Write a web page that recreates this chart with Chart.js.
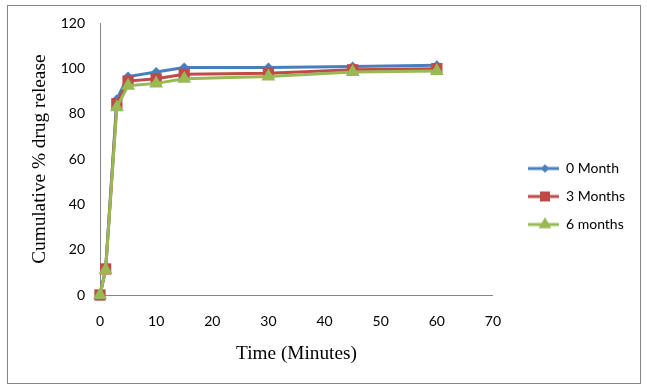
<!DOCTYPE html>
<html>
<head>
<meta charset="utf-8">
<script src="https://cdn.jsdelivr.net/npm/chart.js@4/dist/chart.umd.min.js"></script>
<style>
  html, body { margin: 0; padding: 0; background: #fff; }
  #wrap { width: 647px; height: 390px; }
</style>
</head>
<body>
<div id="wrap"><canvas id="chart" width="647" height="390"></canvas></div>
<script>
// time points (minutes) and cumulative release (%)
const minutes = [0, 1, 3, 5, 10, 15, 30, 45, 60];
const month0 = [0, 11, 86.5, 96.5, 98.5, 100.5, 100.5, 101, 101.5];
const month3 = [0, 11.5, 84.5, 94.5, 95.5, 97.5, 98, 99.5, 100];
const month6 = [0, 11, 83, 92.5, 93.5, 95.5, 96.5, 98.5, 99];
const seriesNames = ['0 Month', '3 Months', '6 months'];
const yTicks = [0, 20, 40, 60, 80, 100, 120];
const xTicks = [0, 10, 20, 30, 40, 50, 60, 70];

const colors = ['#4A7EBB', '#BE4B48', '#98B954'];
const markers = ['rectRot', 'rect', 'triangle'];
const markerSize = [5, 8, 8];

function pairs(values) {
  return minutes.map((t, i) => ({x: t, y: values[i]}));
}

// legend swatch: short line with the marker on it
function swatch(i) {
  const c = document.createElement('canvas');
  c.width = 52;
  c.height = 18;
  const g = c.getContext('2d');
  g.strokeStyle = colors[i];
  g.lineWidth = 3;
  g.beginPath();
  g.moveTo(21, 9);
  g.lineTo(52, 9);
  g.stroke();
  g.fillStyle = colors[i];
  Chart.helpers.drawPoint(g, {pointStyle: markers[i], radius: markerSize[i] - 1, rotation: 0, borderWidth: 0}, 38, 9);
  g.fill();
  return c;
}

const frame = {
  id: 'frame',
  beforeDraw(chart) {
    const ctx = chart.ctx;
    ctx.save();
    ctx.fillStyle = '#fff';
    ctx.fillRect(0, 0, chart.width, chart.height);
    ctx.restore();
  },
  afterDraw(chart) {
    const ctx = chart.ctx;
    ctx.save();
    ctx.strokeStyle = '#868686';
    ctx.lineWidth = 1;
    ctx.strokeRect(7.5, 5.5, 633, 378);
    ctx.restore();
  }
};

const titleFont = { family: 'Liberation Serif', size: 19.3 };
const tickFont = { family: 'Lato', size: 14 };

new Chart(document.getElementById('chart'), {
  type: 'line',
  data: {
    datasets: [month0, month3, month6].map((vals, i) => ({
      label: seriesNames[i],
      data: pairs(vals),
      borderColor: colors[i],
      backgroundColor: colors[i],
      borderWidth: 3,
      pointStyle: markers[i],
      pointRadius: markerSize[i],
      pointHoverRadius: markerSize[i],
      pointBorderWidth: 0,
      tension: 0,
      clip: false,
      order: 2 - i
    }))
  },
  options: {
    responsive: false,
    animation: false,
    layout: { padding: { left: 7, top: 23, right: 12, bottom: 20 } },
    plugins: {
      tooltip: { enabled: false },
      legend: {
        position: 'right',
        labels: {
          usePointStyle: true,
          pointStyleWidth: 52,
          padding: 14,
          color: '#000',
          font: tickFont,
          generateLabels(chart) {
            return chart.data.datasets.map((ds, i) => ({
              text: ds.label,
              pointStyle: swatch(i),
              fillStyle: colors[i],
              strokeStyle: colors[i],
              lineWidth: 0,
              hidden: false,
              datasetIndex: i
            }));
          }
        }
      }
    },
    scales: {
      x: {
        type: 'linear',
        min: 0,
        max: 70,
        afterBuildTicks: s => { s.ticks = xTicks.map(v => ({value: v})); },
        afterFit: s => { s.height = 75; },
        grid: { display: false, drawTicks: false },
        border: { display: true, color: '#868686', width: 1 },
        ticks: { padding: 18, color: '#000', font: tickFont },
        title: {
          display: true,
          text: 'Time (Minutes)',
          color: '#000',
          font: titleFont,
          padding: { top: 0, bottom: 4 }
        }
      },
      y: {
        min: 0,
        max: 120,
        afterBuildTicks: s => { s.ticks = yTicks.map(v => ({value: v})); },
        afterFit: s => { s.width = 93; },
        grid: { display: false, drawTicks: false },
        border: { display: true, color: '#868686', width: 1 },
        ticks: { padding: 15, color: '#000', font: tickFont },
        title: {
          display: true,
          text: 'Cumulative % drug release',
          color: '#000',
          font: titleFont,
          padding: { top: 21, bottom: 0 }
        }
      }
    }
  },
  plugins: [frame]
});
</script>
</body>
</html>
